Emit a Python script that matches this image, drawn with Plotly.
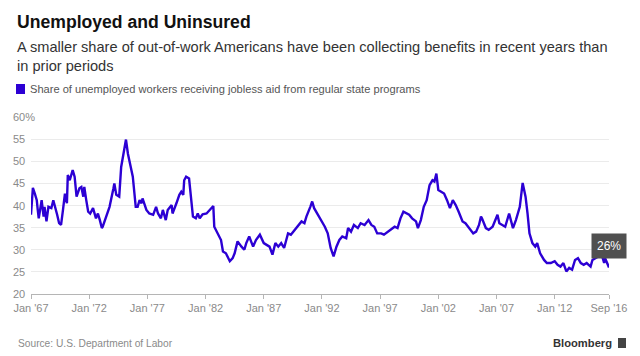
import plotly.graph_objects as go

# ---- data ----
months = [
    "1967-01","1967-03","1967-05","1967-07","1967-08","1967-09","1967-12",
    "1968-02","1968-03","1968-05","1968-07","1968-10","1968-12",
    "1969-02","1969-04","1969-06","1969-08","1969-10","1969-12",
    "1970-02","1970-03","1970-05","1970-08","1970-10","1970-12",
    "1971-03","1971-05","1971-07","1971-08","1971-10","1971-12",
    "1972-02","1972-05","1972-08","1972-10","1972-12",
    "1973-02","1973-03","1973-07","1973-10",
    "1974-02","1974-03","1974-05","1974-08","1974-10",
    "1975-01","1975-03","1975-05","1975-07","1975-10",
    "1976-01","1976-03","1976-05","1976-07","1976-08","1976-12",
    "1977-03","1977-07","1977-10","1977-12",
    "1978-03","1978-05","1978-08","1978-10",
    "1979-02","1979-03","1979-07","1979-10","1979-12",
    "1980-02","1980-03","1980-05","1980-08","1980-10","1980-12",
    "1981-03","1981-05","1981-07","1981-10",
    "1982-02","1982-05","1982-09","1982-10",
    "1983-02","1983-05","1983-07","1983-10",
    "1984-02","1984-05","1984-07","1984-10",
    "1985-02","1985-05","1985-07","1985-10",
    "1986-02","1986-05","1986-09",
    "1987-01","1987-04","1987-07","1987-10",
    "1988-01","1988-04","1988-07","1988-10",
    "1989-02","1989-05","1989-09",
    "1990-01","1990-04","1990-07","1990-09",
    "1991-01","1991-03","1991-05","1991-09",
    "1992-01","1992-04","1992-07","1992-10",
    "1993-01","1993-04","1993-07","1993-10",
    "1994-02","1994-04","1994-07","1994-10",
    "1995-02","1995-05","1995-09",
    "1996-01","1996-04","1996-07","1996-10",
    "1997-02","1997-05","1997-09",
    "1998-01","1998-04","1998-07","1998-10",
    "1999-01","1999-04","1999-07","1999-10",
    "2000-02","2000-04","2000-07","2000-10",
    "2001-01","2001-04","2001-07","2001-09","2001-11",
    "2002-01","2002-04","2002-07","2002-10",
    "2003-01","2003-04","2003-07","2003-10",
    "2004-02","2004-05","2004-09",
    "2005-01","2005-04","2005-07","2005-09","2005-10",
    "2006-02","2006-05","2006-09","2006-12",
    "2007-02","2007-04","2007-07","2007-10",
    "2008-02","2008-04","2008-06","2008-09",
    "2009-01","2009-04","2009-07","2009-09","2009-11",
    "2010-02","2010-05","2010-07","2010-10",
    "2011-02","2011-05","2011-09",
    "2012-01","2012-04","2012-07","2012-10",
    "2013-01","2013-04","2013-07","2013-10",
    "2014-01","2014-04","2014-07","2014-10",
    "2015-02","2015-04","2015-07","2015-10",
    "2016-02","2016-04","2016-05","2016-09",
]
share_pct = [
    37.9,44.0,42.7,41.2,39.0,37.1,41.2,
    37.5,39.7,36.4,39.7,39.4,41.2,
    39.7,37.9,36.0,35.6,39.0,42.7,
    40.5,46.9,45.7,48.0,46.5,42.0,
    43.9,44.2,42.0,44.2,41.2,38.6,
    38.2,39.4,37.1,38.2,36.7,
    34.9,35.2,37.9,39.7,
    43.9,45.0,42.4,42.0,48.7,
    52.5,54.9,51.7,49.5,46.5,
    39.7,39.7,41.2,40.5,41.6,39.0,
    38.2,37.9,39.7,38.2,
    37.1,39.0,36.7,39.0,
    40.1,38.2,40.5,42.4,43.1,
    42.4,45.7,46.5,46.1,41.2,37.5,
    37.1,38.2,37.1,38.0,
    38.2,39.0,39.9,35.2,
    33.4,32.2,29.6,29.2,
    27.4,28.1,29.2,31.9,
    30.7,30.0,31.5,33.0,
    30.7,32.2,33.4,
    31.5,31.1,30.7,28.9,
    31.5,30.7,31.5,30.4,
    33.7,33.4,34.5,
    35.6,36.4,36.0,37.5,
    39.7,40.9,39.4,37.9,
    36.4,35.2,33.7,30.4,
    28.5,30.7,32.2,33.0,
    32.6,34.9,34.1,35.6,
    34.9,36.0,35.6,
    36.7,35.6,35.2,33.7,
    33.7,33.4,34.1,
    34.9,35.2,34.9,37.1,
    38.6,38.2,37.9,37.1,
    36.4,34.9,36.7,39.7,
    41.2,44.6,45.7,45.4,47.2,
    43.5,43.1,42.7,41.2,
    39.4,41.2,40.1,38.6,
    36.4,36.0,34.9,
    33.7,34.1,35.6,37.5,37.1,
    34.9,34.5,35.2,36.7,
    37.9,36.0,35.6,35.2,
    38.2,36.7,34.9,36.7,
    39.7,45.1,42.0,38.2,33.7,
    31.5,30.7,31.5,29.2,
    27.7,27.0,27.0,
    27.4,26.6,26.2,27.0,
    25.1,25.9,25.5,27.7,
    28.1,27.0,26.6,27.0,
    26.2,27.7,28.1,28.5,
    28.5,27.0,28.1,26.0,
]
x_tick_dates = ["1967-01-01","1972-01-01","1977-01-01","1982-01-01","1987-01-01",
                "1992-01-01","1997-01-01","2002-01-01","2007-01-01","2012-01-01","2016-09-01"]
x_tick_labels = ["Jan '67","Jan '72","Jan '77","Jan '82","Jan '87",
                 "Jan '92","Jan '97","Jan '02","Jan '07","Jan '12","Sep '16"]
y_tick_vals = [20, 25, 30, 35, 40, 45, 50, 55, 60]
y_tick_labels = ["20", "25", "30", "35", "40", "45", "50", "55", "60%"]

# ---- layout constants ----
W, H = 640, 356
ML, MR, MT, MB = 31, 31, 117, 62
PW, PH = W - ML - MR, H - MT - MB
LINE = "#2c00d4"
FONT = "Liberation Sans, Arial, Helvetica, sans-serif"


def px(xp):
    return (xp - ML) / PW


def py(yp):
    return (H - MB - yp) / PH


fig = go.Figure()
fig.add_trace(go.Scatter(
    x=[m + "-01" for m in months], y=share_pct, mode="lines",
    line=dict(color=LINE, width=2.4), hoverinfo="skip", showlegend=False,
))

annotations = []
# title / subtitle
annotations.append(dict(text="<b>Unemployed and Uninsured</b>", x=px(15), y=py(22),
                        xref="paper", yref="paper", xanchor="left", yanchor="middle",
                        showarrow=False, font=dict(size=17.6, color="#111", family=FONT)))
annotations.append(dict(text="A smaller share of out-of-work Americans have been collecting benefits in recent years than",
                        x=px(15), y=py(47), xref="paper", yref="paper", xanchor="left", yanchor="middle",
                        showarrow=False, font=dict(size=14.6, color="#333", family=FONT)))
annotations.append(dict(text="in prior periods",
                        x=px(15), y=py(66), xref="paper", yref="paper", xanchor="left", yanchor="middle",
                        showarrow=False, font=dict(size=14.6, color="#333", family=FONT)))
# legend
annotations.append(dict(text="Share of unemployed workers receiving jobless aid from regular state programs",
                        x=px(28), y=py(89), xref="paper", yref="paper", xanchor="left", yanchor="middle",
                        showarrow=False, font=dict(size=11.1, color="#555", family=FONT)))
# y tick labels
for v, t in zip(y_tick_vals, y_tick_labels):
    annotations.append(dict(text=t, x=px(11), y=v, xref="paper", yref="y",
                            xanchor="left", yanchor="middle", showarrow=False,
                            font=dict(size=11, color="#8a8a8a", family=FONT)))
# end value label
annotations.append(dict(text=f"{round(share_pct[-1])}%", x=months[-1] + "-01", y=share_pct[-1],
                        xref="x", yref="y", xanchor="center", yanchor="bottom", yshift=8,
                        showarrow=False, bgcolor="#505050", borderpad=5,
                        font=dict(size=12, color="white", family=FONT)))
# footer
annotations.append(dict(text="Source: U.S. Department of Labor", x=px(16), y=py(343),
                        xref="paper", yref="paper", xanchor="left", yanchor="middle",
                        showarrow=False, font=dict(size=10.2, color="#8a8a8a", family=FONT)))
annotations.append(dict(text="<b>Bloomberg</b>", x=px(614), y=py(343),
                        xref="paper", yref="paper", xanchor="right", yanchor="middle",
                        showarrow=False, font=dict(size=11.2, color="#333", family=FONT)))

shapes = [
    dict(type="rect", xref="paper", yref="paper", x0=px(16), x1=px(25), y0=py(94), y1=py(84),
         fillcolor=LINE, line=dict(width=0)),
    dict(type="rect", xref="paper", yref="paper", x0=px(618), x1=px(626), y0=py(348), y1=py(338),
         fillcolor="#444", line=dict(width=0)),
]

fig.update_layout(
    width=W, height=H, margin=dict(l=ML, r=MR, t=MT, b=MB),
    paper_bgcolor="white", plot_bgcolor="white",
    font=dict(family=FONT, color="#8a8a8a", size=11),
    annotations=annotations, shapes=shapes, showlegend=False,
    xaxis=dict(type="date", range=["1967-01-01", "2016-09-01"],
               tickvals=x_tick_dates, ticktext=x_tick_labels,
               showgrid=False, zeroline=False, showline=True, linecolor="#b5b5b5", linewidth=1,
               ticks="outside", ticklen=4, tickcolor="#b5b5b5",
               tickfont=dict(size=11, color="#8a8a8a", family=FONT)),
    yaxis=dict(range=[20, 60], tickvals=y_tick_vals, showticklabels=False,
               showgrid=True, gridcolor="#ebebeb", gridwidth=1, zeroline=False, ticks=""),
)

fig.write_html("out.html", config={"displayModeBar": False},
               post_script="document.body.style.margin='0';")
